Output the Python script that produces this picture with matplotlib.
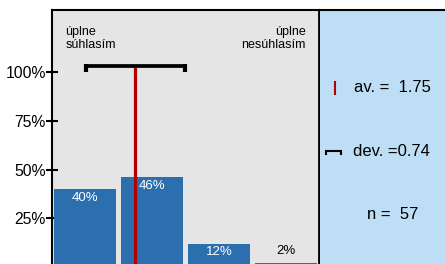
import matplotlib.pyplot as plt
import numpy as np

plt.rcParams['font.family'] = ['Liberation Sans', 'DejaVu Sans']

# data
answers = [1, 2, 3, 4]
shares = [40, 46, 12, 2]
labels_end = ['úplne\nsúhlasím', 'úplne\nnesúhlasím']
yticks = [25, 50, 75, 100]
avg = 1.75
dev = 0.74
n = 57

bar_col = '#2b6fae'
red = '#b00000'
gray_bg = '#e5e5e5'
blue_bg = '#bddef5'

fig = plt.figure(figsize=(4.45, 2.64), dpi=100)
ax = fig.add_axes([52 / 445, 0, 267 / 445, 254 / 264])
ax.set_facecolor(gray_bg)

ax.bar(answers, shares, width=0.93, color=bar_col, zorder=2)
for x, v in zip(answers, shares):
    if v > 8:
        ax.text(x, v - 1.5, f'{v}%', ha='center', va='top', color='white', fontsize=9.5, zorder=3)
    else:
        ax.text(x, v + 3, f'{v}%', ha='center', va='bottom', color='black', fontsize=9.5, zorder=3)

# mean line and deviation bracket
ybr = 103.3
lo, hi = avg - dev, avg + dev
ax.plot([avg, avg], [0, ybr], color=red, lw=2.3, zorder=4, solid_capstyle='butt')
ax.plot([lo, hi], [ybr, ybr], color='black', lw=2.7, zorder=5, solid_capstyle='butt')
for xe in (lo, hi):
    ax.plot([xe, xe], [100, ybr + 0.8], color='black', lw=3, zorder=5, solid_capstyle='butt')

ax.text(0.7, 117.3, labels_end[0], ha='left', va='center', fontsize=9, linespacing=1.1)
ax.text(4.3, 117.3, labels_end[1], ha='right', va='center', fontsize=9, linespacing=1.1)

ax.set_xlim(0.5, 4.5)
ax.set_ylim(1.5, 132)
ax.set_xticks([])
ax.set_yticks(yticks)
ax.set_yticklabels([f'{t}%' for t in yticks], fontsize=11.3)
ax.tick_params(axis='y', direction='inout', length=9, width=1.5, pad=0)
ax.spines['bottom'].set_visible(False)
ax.spines['left'].set_linewidth(1.5)
ax.spines['top'].set_linewidth(1.5)
ax.spines['right'].set_linewidth(2)

# stats panel
ax2 = fig.add_axes([320 / 445, 0, 125 / 445, 254 / 264])
ax2.set_facecolor(blue_bg)
ax2.set_xlim(0, 1)
ax2.set_ylim(0, 1)
ax2.set_xticks([])
ax2.set_yticks([])
for side in ['left', 'bottom', 'right']:
    ax2.spines[side].set_visible(False)
ax2.spines['top'].set_linewidth(1.5)

ax2.plot([0.12, 0.12], [0.67, 0.715], color=red, lw=1.5)
ax2.text(0.58, 0.693, f'av. =  {avg:.2f}', ha='center', va='center', fontsize=12)
ax2.plot([0.05, 0.05, 0.165, 0.165], [0.432, 0.444, 0.444, 0.432], color='black', lw=1.5,
         solid_joinstyle='miter')
ax2.text(0.57, 0.441, f'dev. ={dev:.2f}', ha='center', va='center', fontsize=12)
ax2.text(0.58, 0.193, f'n =  {n}', ha='center', va='center', fontsize=12)

fig.savefig('out.png', dpi=100)
